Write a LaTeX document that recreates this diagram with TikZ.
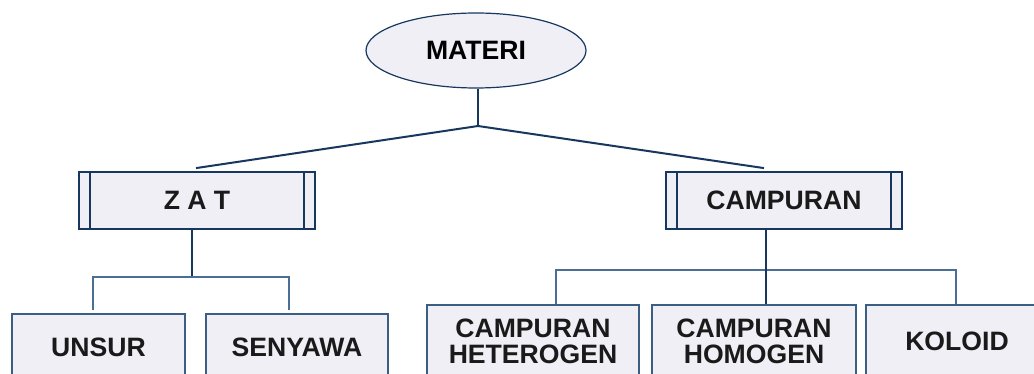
\documentclass[tikz,border=0pt]{standalone}
\usepackage{fontspec}
\setmainfont{Liberation Sans}
\usepackage{tikz}
\usetikzlibrary{calc}
\usetikzlibrary{shapes}

\definecolor{navy}{HTML}{17375E}
\definecolor{steel}{HTML}{4A6E94}
\definecolor{boxfill}{HTML}{EFEFF5}
\definecolor{ink}{HTML}{1A1A1A}

\tikzset{
	bigtext/.style={font=\bfseries\fontsize{26.6}{26}\selectfont, text=ink},
	topic/.style={ellipse, draw=navy, line width=1.2pt, fill=boxfill, bigtext, text=black,
		minimum width=220pt, minimum height=75pt, inner sep=0pt},
	groupbox/.style={rectangle, draw=navy, line width=1.8pt, fill=boxfill, bigtext,
		minimum width=236pt, minimum height=57pt, inner sep=0pt},
	leafbox/.style={rectangle, draw=steel!70!navy, line width=1.5pt, fill=boxfill, bigtext,
		align=center, inner sep=0pt},
	stem/.style={draw=navy, line width=2pt},
	branch/.style={draw=steel, line width=1.4pt}
}

\begin{document}
\begin{tikzpicture}[x=1pt, y=-1pt]
		\useasboundingbox (0,0) rectangle (1034,374);

		\node[topic] (materi) at (476,50.5) {MATERI};
		\node[groupbox] (zat) at (197,200.5) {Z A T};
		\node[groupbox] (campuran) at (784,200.5) {CAMPURAN};

		\node[leafbox, minimum width=173pt, minimum height=66pt] (unsur) at (98.5,347) {UNSUR};
		\node[leafbox, minimum width=182pt, minimum height=66pt] (senyawa) at (297,347) {SENYAWA};
		\node[leafbox, minimum width=212pt, minimum height=72pt] (heterogen) at (533,341) {CAMPURAN\\HETEROGEN};
		\node[leafbox, minimum width=204pt, minimum height=72pt] (homogen) at (754,341) {CAMPURAN\\HOMOGEN};
		\node[leafbox, minimum width=182pt, minimum height=72pt] (koloid) at (957,341) {KOLOID};

		% inner lines of the two group boxes
		\draw[stem] ([xshift=12pt]zat.north west) -- ([xshift=12pt]zat.south west);
		\draw[stem] ([xshift=-12pt]zat.north east) -- ([xshift=-12pt]zat.south east);
		\draw[stem] ([xshift=12pt]campuran.north west) -- ([xshift=12pt]campuran.south west);
		\draw[stem] ([xshift=-12pt]campuran.north east) -- ([xshift=-12pt]campuran.south east);

		\coordinate (mj) at (478,126);
		\coordinate (zj) at (192,277);
		\coordinate (zl) at (93,277);
		\coordinate (zr) at (289,277);
		\coordinate (cj) at (766,270);
		\coordinate (cl) at (556,270);
		\coordinate (cr) at (956,270);

		\draw[stem] (materi.south -| mj) -- (mj);
		\draw[stem] (mj) -- ([xshift=-1pt,yshift=3pt]zat.north);
		\draw[stem] (mj) -- ([xshift=-20pt,yshift=3pt]campuran.north);

		\draw[stem] (zat.south -| zj) -- (zj);
		\draw[branch] ([yshift=3pt]unsur.north -| zl) -- (zl) -- (zr) -- ([yshift=3pt]senyawa.north -| zr);

		\draw[branch] (heterogen.north -| cl) -- (cl) -- (cr) -- (koloid.north -| cr);
		\draw[stem] (campuran.south -| cj) -- (homogen.north -| cj);
\end{tikzpicture}
\end{document}
